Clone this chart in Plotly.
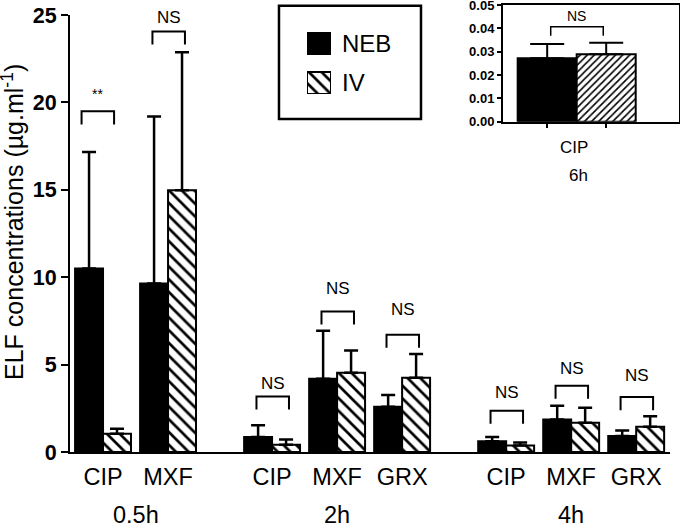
import plotly.graph_objects as go

# main panel data
drugs = ["CIP", "MXF", "CIP", "MXF", "GRX", "CIP", "MXF", "GRX"]
times = ["0.5h", "0.5h", "2h", "2h", "2h", "4h", "4h", "4h"]
neb_mean = [10.5, 9.64, 0.86, 4.19, 2.59, 0.61, 1.86, 0.92]
neb_sd = [6.66, 9.56, 0.67, 2.75, 0.67, 0.25, 0.78, 0.31]
iv_mean = [1.05, 14.97, 0.42, 4.53, 4.25, 0.37, 1.67, 1.44]
iv_sd = [0.28, 7.9, 0.29, 1.28, 1.35, 0.17, 0.86, 0.61]
sig_text = ["**", "NS", "NS", "NS", "NS", "NS", "NS", "NS"]
sig_top = [19.49, 24.06, 3.18, 8.04, 6.71, 2.36, 3.79, 3.14]
sig_label_y = [20.5, 24.86, 3.93, 9.37, 8.15, 3.39, 4.78, 4.36]

# inset (6h)
inset_drug = "CIP"
inset_time = "6h"
inset_neb = 0.0272
inset_neb_sd = 0.0061
inset_iv = 0.0289
inset_iv_sd = 0.0049
inset_sig_top = 0.0407
inset_sig_label_y = 0.0453

FONT = "Arial, Liberation Sans, sans-serif"
BW = 0.43  # bar width in slot units

# x positions: 1 slot per drug, extra gap between time groups
xpos = []
for i, t in enumerate(times):
    if i == 0:
        xpos.append(0.0)
    elif t == times[i - 1]:
        xpos.append(xpos[-1] + 1)
    else:
        xpos.append(xpos[-1] + 1.6)

hatch_main = dict(shape="\\", fgcolor="black", bgcolor="white", size=9, solidity=0.3, fgopacity=1)

fig = go.Figure()

fig.add_trace(go.Bar(
    x=xpos, y=neb_mean, width=BW, offset=-BW, name="NEB",
    marker=dict(color="black", line=dict(color="black", width=2)),
    error_y=dict(type="data", symmetric=False, array=neb_sd,
                 arrayminus=[0] * len(neb_sd), color="black", thickness=2.5, width=7),
    showlegend=False,
))
fig.add_trace(go.Bar(
    x=xpos, y=iv_mean, width=BW, offset=0, name="IV",
    marker=dict(color="white", line=dict(color="black", width=2), pattern=hatch_main),
    error_y=dict(type="data", symmetric=False, array=iv_sd,
                 arrayminus=[0] * len(iv_sd), color="black", thickness=2.5, width=7),
    showlegend=False,
))

# inset bars
fig.add_trace(go.Bar(
    x=[-0.5], y=[inset_neb], width=1, xaxis="x2", yaxis="y2",
    marker=dict(color="black", line=dict(color="black", width=2)),
    error_y=dict(type="data", symmetric=False, array=[inset_neb_sd], arrayminus=[0],
                 color="black", thickness=2, width=17),
    showlegend=False,
))
fig.add_trace(go.Bar(
    x=[0.5], y=[inset_iv], width=1, xaxis="x2", yaxis="y2",
    marker=dict(color="white", line=dict(color="black", width=2),
                pattern=dict(shape="/", fgcolor="black", bgcolor="white", size=5, solidity=0.32, fgopacity=1)),
    error_y=dict(type="data", symmetric=False, array=[inset_iv_sd], arrayminus=[0],
                 color="black", thickness=2, width=17),
    showlegend=False,
))

# legend swatches drawn on their own small axis
fig.add_trace(go.Bar(
    x=[0], y=[22], base=[40], width=1, xaxis="x3", yaxis="y3",
    marker=dict(color="black", line=dict(color="black", width=2)), showlegend=False,
))
fig.add_trace(go.Bar(
    x=[0], y=[22], base=[0], width=1, xaxis="x3", yaxis="y3",
    marker=dict(color="white", line=dict(color="black", width=2), pattern=hatch_main),
    showlegend=False,
))

shapes = []
annotations = []
bracket_shift = [-0.09, 0, 0, 0, 0, 0, 0, 0]
for x, top, ly, txt, dx in zip(xpos, sig_top, sig_label_y, sig_text, bracket_shift):
    x0, x1 = x - 0.24 + dx, x + 0.26 + dx
    shapes.append(dict(type="path", xref="x", yref="y",
                       path=f"M {x0},{top - 0.75} L {x0},{top} L {x1},{top} L {x1},{top - 0.75}",
                       line=dict(color="black", width=2)))
    annotations.append(dict(x=(x0 + x1) / 2, y=ly, xref="x", yref="y", text=txt, showarrow=False,
                            yanchor="middle",
                            font=dict(size=14 if txt == "**" else 17, family=FONT, color="black")))

# inset bracket
shapes.append(dict(type="path", xref="x2", yref="y2",
                   path=f"M -0.44,{inset_sig_top - 0.0039} L -0.44,{inset_sig_top} "
                        f"L 0.45,{inset_sig_top} L 0.45,{inset_sig_top - 0.0039}",
                   line=dict(color="black", width=1.5)))
annotations.append(dict(x=0.0, y=inset_sig_label_y, xref="x2", yref="y2", text="NS", showarrow=False,
                        yanchor="middle", font=dict(size=14, family=FONT, color="black")))
annotations.append(dict(x=-0.05, y=0.6786, xref="x2", yref="paper", text=inset_drug, showarrow=False,
                        yanchor="middle", font=dict(size=17, family=FONT, color="black")))
annotations.append(dict(x=0.03, y=0.6183, xref="x2", yref="paper", text=inset_time, showarrow=False,
                        yanchor="middle", font=dict(size=17, family=FONT, color="black")))

# group labels
for t in dict.fromkeys(times):
    xs = [x for x, tt in zip(xpos, times) if tt == t]
    annotations.append(dict(x=(xs[0] + xs[-1]) / 2, y=-0.1406, xref="x", yref="paper", text=t,
                            yanchor="middle", showarrow=False,
                            font=dict(size=23.5, family=FONT, color="black")))

# y axis title
annotations.append(dict(x=-0.0935, y=0.5134, xref="paper", yref="paper", textangle=-90,
                        text="ELF concentrations (µg.ml<sup>-1</sup>)", showarrow=False,
                        xanchor="center", yanchor="middle",
                        font=dict(size=25, family=FONT, color="black")))

# legend box + labels
shapes.append(dict(type="rect", xref="paper", yref="paper", x0=0.3426, x1=0.5754, y0=0.7433, y1=0.9962,
                   line=dict(color="black", width=2.5)))
annotations.append(dict(x=0.4433, y=0.9129, xref="paper", yref="paper", text="NEB", showarrow=False,
                        xanchor="left", yanchor="middle", font=dict(size=24, family=FONT, color="black")))
annotations.append(dict(x=0.4433, y=0.8237, xref="paper", yref="paper", text="IV", showarrow=False,
                        xanchor="left", yanchor="middle", font=dict(size=24, family=FONT, color="black")))

fig.update_layout(
    width=680, height=527,
    margin=dict(l=70, r=0, t=4, b=75, autoexpand=False),
    plot_bgcolor="white", paper_bgcolor="white",
    barmode="overlay",
    font=dict(family=FONT, color="black"),
    shapes=shapes, annotations=annotations,
    xaxis=dict(domain=[0, 0.9836], range=[-0.508, 8.72], tickvals=xpos, ticktext=drugs, automargin=False,
               showline=True, linecolor="black", linewidth=2, ticks="", showgrid=False, zeroline=False,
               tickfont=dict(size=23.5, family=FONT, color="black"), ticklabelstandoff=3),
    yaxis=dict(domain=[0, 0.9754], range=[0, 25], dtick=5, showline=True, linecolor="black", linewidth=2,
               automargin=False,
               ticks="outside", ticklen=7, tickwidth=2, tickcolor="black", showgrid=False, zeroline=False,
               tickfont=dict(size=21.5, family=FONT, color="black", weight="bold")),
    xaxis2=dict(domain=[0.7098, 0.9984], range=[-1.249, 1.734], anchor="y2", tickvals=[-0.5, 0.5],
                ticktext=["", ""], ticks="outside", ticklen=4, tickwidth=1.5, tickcolor="black", automargin=False,
                showline=True, mirror=True, linecolor="black", linewidth=2, showgrid=False, zeroline=False),
    yaxis2=dict(domain=[0.7373, 0.9978], range=[0, 0.05], dtick=0.01, tickformat=".2f", anchor="x2",
                ticks="outside", ticklen=4, tickwidth=1.5, tickcolor="black", automargin=False,
                ticklabeloverflow="allow",
                showline=True, mirror=True, linecolor="black", linewidth=2, showgrid=False, zeroline=False,
                tickfont=dict(size=13, family=FONT, color="black", weight="bold")),
    xaxis3=dict(domain=[0.3885, 0.4279], range=[-0.5, 0.5], anchor="y3", visible=False),
    yaxis3=dict(domain=[0.7991, 0.9375], range=[0, 62], anchor="x3", visible=False),
)

fig.write_html("out.html", config={"displayModeBar": False},
               post_script="document.body.style.margin='0';")
